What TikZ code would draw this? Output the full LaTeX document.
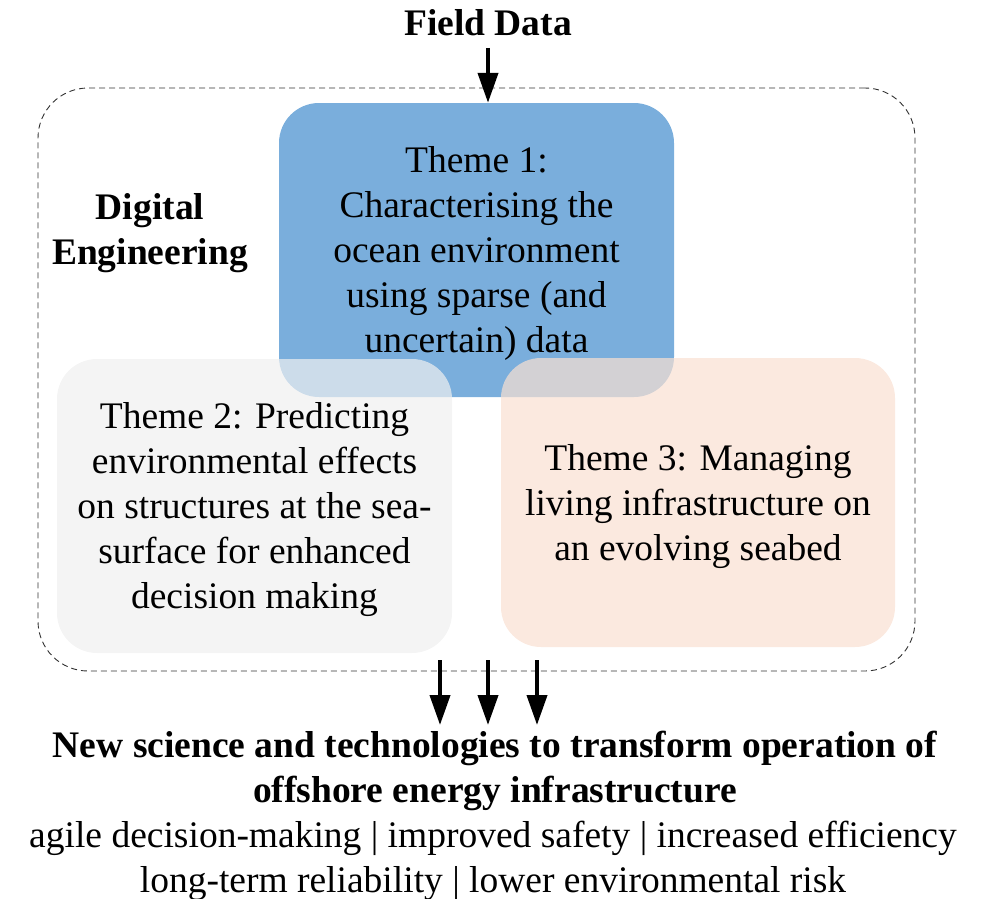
\documentclass[tikz,border=0pt]{standalone}
\usepackage{fontspec}
\setmainfont{Liberation Serif}
\usetikzlibrary{arrows.meta}
\definecolor{tblue}{HTML}{7AAEDC}
\definecolor{tgray}{RGB}{240,240,240}
\definecolor{tpeach}{RGB}{249,224,210}
\definecolor{dashgray}{RGB}{50,50,50}
\begin{document}
\begin{tikzpicture}[x=1pt,y=-1pt,
  every node/.style={font=\fontsize{37.5}{45}\selectfont, align=center, inner sep=0pt},
  themebox/.style={rounded corners=40pt, minimum width=395pt, minimum height=294pt},
  bigarrow/.style={line width=4pt, -{Triangle[width=20pt,length=30pt]}},
  boldtext/.style={font=\bfseries\fontsize{37.5}{45}\selectfont},
  debox/.style={draw=dashgray, line width=0.9pt, dash pattern=on 6pt off 4pt, rounded corners=50pt, minimum width=877pt, minimum height=583pt}]
\useasboundingbox (0,0) rectangle (990,899);
\node[debox] (de) at (476.5,379.5) {};
\node[boldtext] (field) at (488,23) {Field Data};
\node[themebox, fill=tblue] (t1) at (476.5,250) {};
\node[themebox, fill=tgray, fill opacity=0.7] (t2) at (254.5,506) {};
\node[themebox, fill=tpeach, fill opacity=0.7, minimum width=394pt, minimum height=289pt] (t3) at (698,502.5) {};
\node (t1txt) at (476.5,253) {Theme 1:\\Characterising the\\ocean environment\\using sparse (and\\uncertain) data};
\node (t2txt) at (254.5,509.5) {Theme 2: Predicting\\environmental effects\\on structures at the sea-\\surface for enhanced\\decision making};
\node (t3txt) at (698,507) {Theme 3: Managing\\living infrastructure on\\an evolving seabed};
\node[boldtext] (dig) at (150,233) {Digital\\Engineering};
\node[boldtext] (out) at (495,770.5) {New science and technologies to transform operation of\\offshore energy infrastructure};
\node (ben) at (493,860.5) {agile decision-making | improved safety | increased efficiency\\long-term reliability | lower environmental risk};
\coordinate (fa) at (488,48);
\draw[bigarrow] (fa) -- (t1.north -| fa);
\foreach \i/\x in {1/440,2/488,3/537}{
  \coordinate (s\i) at (\x,660);
  \coordinate (e\i) at (\x,725);
  \draw[bigarrow] (s\i) -- (e\i);
}
\end{tikzpicture}
\end{document}
